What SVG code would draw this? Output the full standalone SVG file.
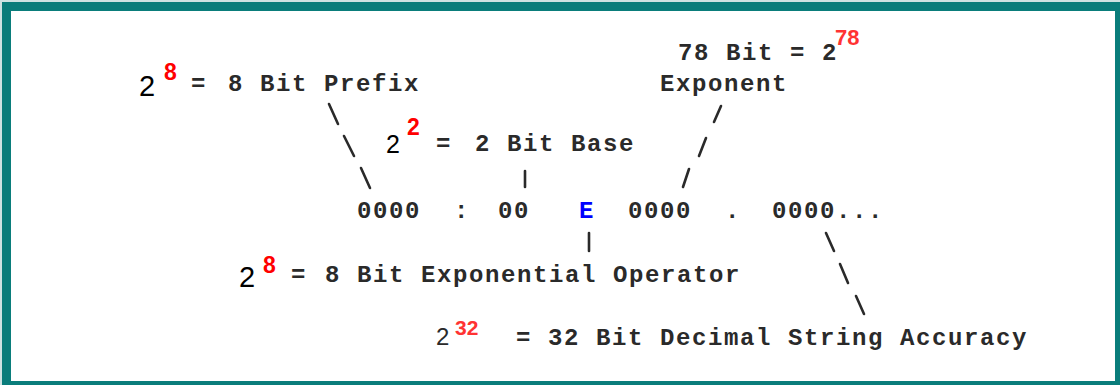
<svg xmlns="http://www.w3.org/2000/svg" width="1120" height="385" viewBox="0 0 1120 385">
<style>
.m{font-family:"Liberation Mono","Courier New",monospace;font-size:24px;font-weight:bold;fill:#2a2a2a;letter-spacing:1.6px}
.b{font-family:"Liberation Sans",Arial,sans-serif;font-size:29px;fill:#000}
.s{font-family:"Liberation Sans",Arial,sans-serif;font-size:23px;font-weight:bold;fill:#ff0000}
.e{fill:#0000ff}
.c line{stroke:#2a2a2a;stroke-width:2.6;stroke-linecap:round}
</style>
<rect x="0" y="0" width="1120" height="385" fill="#cfe3e3"/>
<rect x="2" y="2" width="1118" height="383" fill="#0a7d7b"/>
<rect x="11" y="11" width="1104" height="370" fill="#ffffff"/>

<g id="prefix">
<text class="b" x="139" y="96">2</text>
<text class="s" x="164" y="80">8</text>
<text class="m" x="191" y="91">=</text>
<text class="m" x="228" y="91">8 Bit Prefix</text>
</g>
<g id="base">
<text class="b" x="386" y="153" style="font-size:25px">2</text>
<text class="s" x="407" y="135">2</text>
<text class="m" x="436" y="151">=</text>
<text class="m" x="475" y="151">2 Bit Base</text>
</g>
<g id="exponent">
<text class="m" x="678" y="60">78 Bit = 2</text>
<text class="s" x="835" y="45" style="font-size:22px;fill:#ff3333">78</text>
<text class="m" x="660" y="91">Exponent</text>
</g>
<g id="number">
<text class="m" x="357" y="218">0000</text>
<text class="m" x="454" y="218">:</text>
<text class="m" x="498" y="218">00</text>
<text class="m e" x="579" y="218">E</text>
<text class="m" x="628" y="218">0000</text>
<text class="m" x="725" y="218">.</text>
<text class="m" x="772" y="218">0000...</text>
</g>
<g id="operator">
<text class="b" x="239" y="287">2</text>
<text class="s" x="263" y="273">8</text>
<text class="m" x="291" y="282">=</text>
<text class="m" x="325" y="282">8 Bit Exponential Operator</text>
</g>
<g id="accuracy">
<text class="b" x="436" y="345" style="font-size:24px;fill:#2a2a2a">2</text>
<text class="s" x="455" y="335" style="font-size:21px;fill:#ff3333">32</text>
<text class="m" x="516" y="345">=</text>
<text class="m" x="548" y="345">32 Bit Decimal String Accuracy</text>
</g>

<g id="connectors" class="c">
<line x1="329" y1="104" x2="338" y2="124"/>
<line x1="344" y1="136" x2="354" y2="156"/>
<line x1="361" y1="168" x2="370" y2="188"/>
<line x1="525" y1="171" x2="525" y2="187"/>
<line x1="721" y1="106" x2="714" y2="122"/>
<line x1="706" y1="138" x2="699" y2="156"/>
<line x1="689" y1="169" x2="683" y2="187"/>
<line x1="589" y1="233" x2="589" y2="251"/>
<line x1="826" y1="233" x2="834" y2="251"/>
<line x1="840" y1="264" x2="848" y2="283"/>
<line x1="856" y1="296" x2="864" y2="314"/>
</g>
</svg>
